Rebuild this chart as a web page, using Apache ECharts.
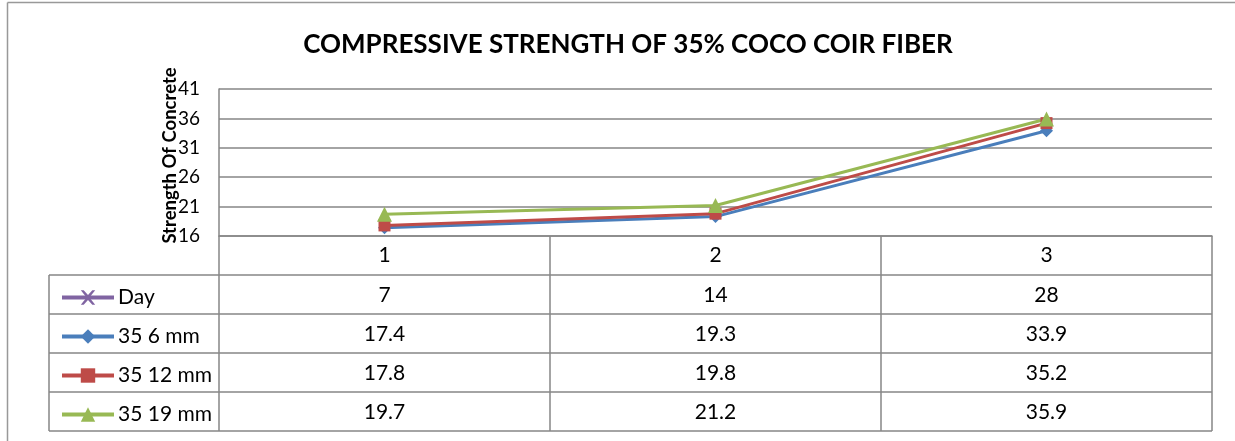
<!DOCTYPE html>
<html>
<head>
<meta charset="utf-8">
<script src="https://cdn.jsdelivr.net/npm/echarts@6/dist/echarts.min.js"></script>
<style>
  html, body { margin: 0; padding: 0; background: #fff; }
  #main { width: 1235px; height: 441px; }
</style>
</head>
<body>
<div id="main"></div>
<script>
var categories = ['1', '2', '3'];
var seriesNames = ['Day', '35 6 mm', '35 12 mm', '35 19 mm'];
var dayVals = [7, 14, 28];
var mm6Vals = [17.4, 19.3, 33.9];
var mm12Vals = [17.8, 19.8, 35.2];
var mm19Vals = [19.7, 21.2, 35.9];

var fontFam = 'Lato, "Open Sans", sans-serif';
var gridCol = '#868686';
var crossPath = 'path://M0,0L2,0L5,3L8,0L10,0L6,4.5L10,9L8,9L5,6L2,9L0,9L4,4.5Z';
var rowMid = [294, 333, 372, 411];

var chart = echarts.init(document.getElementById('main'));

// one hidden axis per table row so the values sit in the right column
function rowAxis(vals, off) {
    return {
        type: 'category',
        gridIndex: 0,
        position: 'bottom',
        offset: off,
        data: vals.map(String),
        axisLine: { show: false },
        axisTick: { show: false },
        axisLabel: { fontSize: 21, color: '#000', fontFamily: fontFam, margin: 10 }
    };
}

// one legend per table row
var legends = seriesNames.map(function (nm, i) {
    return {
        orient: 'vertical',
        left: 55,
        top: rowMid[i] - 12,
        itemWidth: 52,
        itemHeight: 18,
        selectedMode: false,
        lineStyle: { width: 4 },
        textStyle: { fontSize: 21, color: '#000', fontFamily: fontFam, padding: [0, 0, 0, -1] },
        data: [nm]
    };
});

// table borders and chart frame
var tableLines = [];
[275, 314, 353, 392, 431].forEach(function (y) {
    tableLines.push({ type: 'line', shape: { x1: 49, y1: y, x2: 1212, y2: y }, style: { stroke: gridCol, lineWidth: 1.5 } });
});
tableLines.push({ type: 'line', shape: { x1: 49, y1: 275, x2: 49, y2: 431 }, style: { stroke: gridCol, lineWidth: 1.5 } });
tableLines.push({ type: 'line', shape: { x1: 7.5, y1: 2.5, x2: 1235, y2: 2.5 }, style: { stroke: '#999', lineWidth: 1.5 } });
tableLines.push({ type: 'line', shape: { x1: 7.5, y1: 2.5, x2: 7.5, y2: 441 }, style: { stroke: '#999', lineWidth: 1.5 } });

var option = {
    backgroundColor: '#fff',
    animation: false,
    title: {
        text: 'COMPRESSIVE STRENGTH OF 35% COCO COIR FIBER',
        left: 623,
        textAlign: 'center',
        top: 27,
        textStyle: { fontSize: 26, fontWeight: 'bold', color: '#000', fontFamily: fontFam }
    },
    legend: legends,
    grid: { left: 219, right: 23, top: 89, height: 147 },
    xAxis: [
        {
            type: 'category',
            data: categories,
            boundaryGap: true,
            axisLine: { lineStyle: { color: gridCol, width: 1.5 } },
            axisTick: { show: true, length: 195, lineStyle: { color: gridCol, width: 1.5 } },
            axisLabel: { fontSize: 21, color: '#000', fontFamily: fontFam, margin: 9 }
        },
        rowAxis(dayVals, 39),
        rowAxis(mm6Vals, 78),
        rowAxis(mm12Vals, 117),
        rowAxis(mm19Vals, 156)
    ],
    yAxis: {
        type: 'value',
        min: 16,
        max: 41,
        interval: 5,
        name: 'Strength Of Concrete',
        nameLocation: 'middle',
        nameGap: 39,
        nameMoveOverlap: false,
        nameRotate: 90,
        nameTextStyle: { fontSize: 18.5, fontWeight: 'bold', color: '#000', fontFamily: fontFam, padding: [0, 0, 0, 14] },
        axisLine: { show: true, lineStyle: { color: gridCol, width: 1.5 } },
        axisTick: { show: false },
        axisLabel: { fontSize: 19, color: '#000', fontFamily: fontFam, margin: 19 },
        splitLine: { lineStyle: { color: gridCol, width: 1.5 } }
    },
    graphic: tableLines,
    series: [
        {
            name: 'Day',
            type: 'line',
            data: [],
            symbol: crossPath,
            symbolSize: [16, 14],
            itemStyle: { color: '#8064A2' },
            lineStyle: { color: '#8064A2', width: 3 }
        },
        {
            name: '35 6 mm',
            type: 'line',
            data: mm6Vals,
            symbol: 'diamond',
            symbolSize: 13,
            itemStyle: { color: '#4A7EBB' },
            lineStyle: { color: '#4A7EBB', width: 3 }
        },
        {
            name: '35 12 mm',
            type: 'line',
            data: mm12Vals,
            symbol: 'rect',
            symbolSize: 12,
            itemStyle: { color: '#BE4B48' },
            lineStyle: { color: '#BE4B48', width: 3 }
        },
        {
            name: '35 19 mm',
            type: 'line',
            data: mm19Vals,
            symbol: 'triangle',
            symbolSize: 15,
            itemStyle: { color: '#98B954' },
            lineStyle: { color: '#98B954', width: 3 }
        }
    ]
};

chart.setOption(option);
</script>
</body>
</html>
